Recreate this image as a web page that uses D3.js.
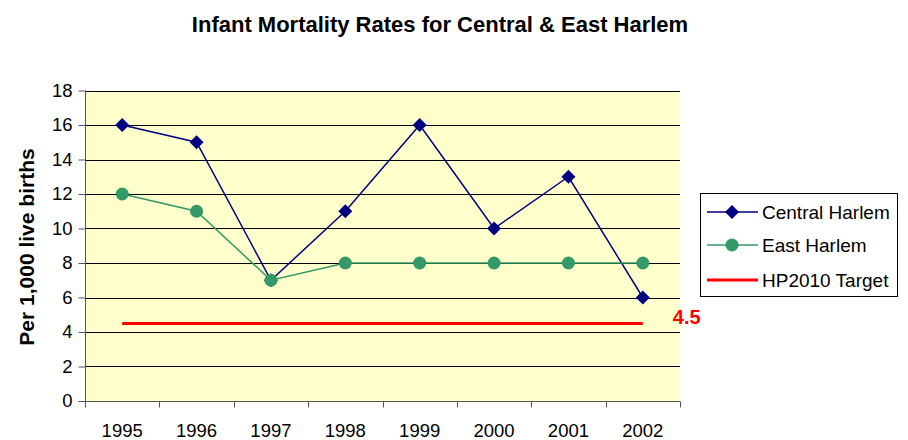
<!DOCTYPE html>
<html>
<head>
<meta charset="utf-8">
<script src="https://cdn.jsdelivr.net/npm/d3@7"></script>
<style>
  html, body { margin: 0; padding: 0; background: #ffffff; }
  svg { display: block; font-family: "Liberation Sans", Arial, sans-serif; }
</style>
</head>
<body>
<svg id="chart" width="908" height="440"></svg>
<script>
const years = ["1995", "1996", "1997", "1998", "1999", "2000", "2001", "2002"];
const centralHarlem = [16, 15, 7, 11, 16, 10, 13, 6];
const eastHarlem = [12, 11, 7, 8, 8, 8, 8, 8];
const hp2010Target = [4.5, 4.5, 4.5, 4.5, 4.5, 4.5, 4.5, 4.5];
const yTicks = [0, 2, 4, 6, 8, 10, 12, 14, 16, 18];
const seriesNames = ["Central Harlem", "East Harlem", "HP2010 Target"];
const titleText = "Infant Mortality Rates for Central & East Harlem";
const yLabel = "Per 1,000 live births";
const targetLabel = "4.5";

const svg = d3.select("#chart");
const plot = { left: 85, right: 680, top: 90.5, bottom: 401 };

const x = d3.scaleBand().domain(years).range([plot.left, plot.right]);
const y = d3.scaleLinear().domain([0, 18]).range([plot.bottom, plot.top]);
const cx = d => x(d) + x.bandwidth() / 2;

// plot background
svg.append("rect")
  .attr("x", plot.left).attr("y", plot.top)
  .attr("width", plot.right - plot.left).attr("height", plot.bottom - plot.top)
  .attr("fill", "#FFFFCC");

// gridlines
svg.append("g").selectAll("line").data(yTicks.filter(t => t > 0)).join("line")
  .attr("x1", plot.left).attr("x2", plot.right)
  .attr("y1", d => Math.round(y(d)) + 0.5).attr("y2", d => Math.round(y(d)) + 0.5)
  .attr("stroke", "#000").attr("stroke-width", 1);

// y axis
const yAxis = d3.axisLeft(y).tickValues(yTicks).tickSize(7).tickPadding(6).tickFormat(d3.format("d"));
const gy = svg.append("g").attr("transform", `translate(${plot.left + 0.5},0)`).call(yAxis);
gy.select(".domain").attr("stroke", "#555").attr("d", `M0,${plot.top}V${plot.bottom}`);
gy.selectAll(".tick line").attr("stroke", "#555");
gy.selectAll(".tick text").attr("font-size", "18.5px").attr("fill", "#000")
  .attr("font-family", "'Liberation Sans', Arial, sans-serif");

// x axis
const xAxis = d3.axisBottom(x).tickSize(0).tickPadding(22);
const gx = svg.append("g").attr("transform", `translate(0,${plot.bottom + 0.5})`).call(xAxis);
gx.select(".domain").attr("stroke", "#555").attr("d", `M${plot.left},0H${plot.right}`);
gx.selectAll(".tick text").attr("font-size", "18.5px").attr("fill", "#000")
  .attr("font-family", "'Liberation Sans', Arial, sans-serif");
// category boundary ticks
const bounds = years.map(d => x(d)).concat([x(years[years.length - 1]) + x.bandwidth()]);
gx.selectAll("line.bt").data(bounds).join("line").attr("class", "bt")
  .attr("x1", d => Math.round(d) + 0.5).attr("x2", d => Math.round(d) + 0.5)
  .attr("y1", 0).attr("y2", 6).attr("stroke", "#555");

// target line
svg.append("line")
  .attr("x1", cx(years[0])).attr("x2", cx(years[years.length - 1]))
  .attr("y1", y(hp2010Target[0])).attr("y2", y(hp2010Target[hp2010Target.length - 1]))
  .attr("stroke", "#FF0000").attr("stroke-width", 3);
svg.append("text")
  .attr("x", cx(years[years.length - 1]) + 30).attr("y", y(hp2010Target[hp2010Target.length - 1]) + 1)
  .attr("font-size", "20px").attr("font-weight", "bold").attr("fill", "#FF0000")
  .text(targetLabel);

const line = d3.line().x((d, i) => cx(years[i])).y(d => y(d));

// Central Harlem
svg.append("path").datum(centralHarlem).attr("d", line)
  .attr("fill", "none").attr("stroke", "#000080").attr("stroke-width", 1.5);
const diamond = s => `M0,${-s}L${s},0L0,${s}L${-s},0Z`;
svg.append("g").selectAll("path").data(centralHarlem).join("path")
  .attr("transform", (d, i) => `translate(${cx(years[i])},${y(d)})`)
  .attr("d", diamond(7)).attr("fill", "#000080");

// East Harlem
svg.append("path").datum(eastHarlem).attr("d", line)
  .attr("fill", "none").attr("stroke", "#339966").attr("stroke-width", 1.5);
svg.append("g").selectAll("circle").data(eastHarlem).join("circle")
  .attr("cx", (d, i) => cx(years[i])).attr("cy", d => y(d))
  .attr("r", 6.5).attr("fill", "#339966");

// title
svg.append("text").attr("x", 440).attr("y", 32).attr("text-anchor", "middle")
  .attr("font-size", "22px").attr("font-weight", "bold").attr("fill", "#000")
  .text(titleText);

// y label
svg.append("text")
  .attr("transform", `translate(34,247) rotate(-90)`)
  .attr("text-anchor", "middle")
  .attr("font-size", "21px").attr("font-weight", "bold").attr("fill", "#000")
  .text(yLabel);

// legend
const lg = svg.append("g");
lg.append("rect").attr("x", 700.5).attr("y", 193.5).attr("width", 197).attr("height", 103)
  .attr("fill", "#fff").attr("stroke", "#000").attr("stroke-width", 1);
const rowsY = [212, 245, 280];
const colors = ["#000080", "#339966", "#FF0000"];
seriesNames.forEach((name, i) => {
  lg.append("line").attr("x1", 707).attr("x2", 758).attr("y1", rowsY[i]).attr("y2", rowsY[i])
    .attr("stroke", colors[i]).attr("stroke-width", i === 2 ? 3 : 1.5);
  if (i === 0) {
    lg.append("path").attr("transform", `translate(732,${rowsY[i]})`).attr("d", diamond(7)).attr("fill", colors[i]);
  } else if (i === 1) {
    lg.append("circle").attr("cx", 732).attr("cy", rowsY[i]).attr("r", 6.5).attr("fill", colors[i]);
  }
  lg.append("text").attr("x", 762).attr("y", rowsY[i] + 7)
    .attr("font-size", "19px").attr("fill", "#000").text(name);
});
</script>
</body>
</html>
